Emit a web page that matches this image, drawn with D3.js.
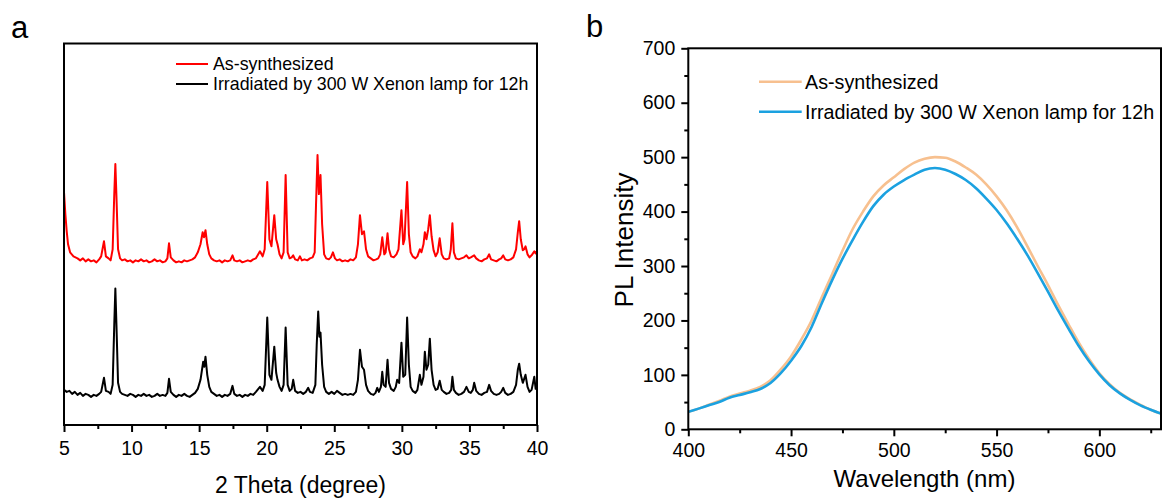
<!DOCTYPE html>
<html>
<head>
<meta charset="utf-8">
<script src="https://cdn.jsdelivr.net/npm/d3@7"></script>
<style>
  body { margin: 0; background: #fff; }
  svg { display: block; font-family: "Liberation Sans", Arial, sans-serif; }
</style>
</head>
<body>
<div id="chart"></div>
<script>
// ---- panel a : XRD patterns, [2theta, intensity (a.u.)] ----
var xrdIrradiated = [
  [5.0,35],[5.2,33],[5.4,34],[5.6,31],[5.8,33],[6.0,30],[6.2,32],[6.4,29],[6.6,31],[6.8,30],[7.0,28],[7.2,30],[7.4,29],[7.6,31],[7.75,33],[7.96,47],[8.1,34],[8.3,33],[8.45,31],[8.6,40],[8.72,100],[8.8,136],[8.88,100],[9.0,42],[9.15,33],[9.3,31],[9.5,30],[9.7,29],[9.9,31],[10.1,30],[10.3,28],[10.5,30],[10.7,29],[10.9,31],[11.1,29],[11.3,30],[11.5,28],[11.7,29],[11.9,31],[12.1,29],[12.3,30],[12.5,29],[12.65,32],[12.77,46],[12.9,33],[13.1,30],[13.3,28],[13.5,30],[13.7,29],[13.9,31],[14.1,29],[14.3,28],[14.5,30],[14.7,32],[14.9,36],[15.1,45],[15.3,63],[15.38,58],[15.47,68],[15.6,50],[15.75,38],[15.9,33],[16.1,31],[16.3,29],[16.5,30],[16.7,28],[16.9,30],[17.1,29],[17.3,31],[17.47,39],[17.6,31],[17.8,29],[18.0,30],[18.2,28],[18.4,30],[18.6,29],[18.8,31],[19.0,30],[19.2,33],[19.5,38],[19.7,34],[19.85,40],[20.04,107],[20.2,50],[20.35,45],[20.56,78],[20.7,52],[20.8,45],[20.95,38],[21.1,34],[21.25,40],[21.4,97],[21.55,40],[21.7,34],[21.85,36],[21.96,45],[22.1,34],[22.3,32],[22.5,33],[22.7,31],[22.9,33],[23.07,37],[23.2,33],[23.4,32],[23.6,40],[23.7,80],[23.81,113],[23.9,88],[23.98,92],[24.1,60],[24.25,38],[24.4,33],[24.6,31],[24.8,33],[25.0,31],[25.2,34],[25.4,32],[25.6,30],[25.8,31],[26.0,30],[26.2,31],[26.4,30],[26.6,33],[26.75,45],[26.9,75],[27.05,58],[27.2,55],[27.35,40],[27.5,34],[27.7,31],[27.9,30],[28.05,32],[28.18,37],[28.3,33],[28.45,38],[28.55,53],[28.65,40],[28.8,38],[28.94,65],[29.05,42],[29.2,36],[29.4,34],[29.55,38],[29.65,45],[29.8,42],[29.97,82],[30.1,48],[30.25,50],[30.39,107],[30.52,60],[30.65,38],[30.8,34],[31.0,32],[31.15,35],[31.33,50],[31.45,40],[31.6,48],[31.7,73],[31.82,55],[31.95,60],[32.07,86],[32.2,55],[32.35,40],[32.5,35],[32.65,36],[32.8,44],[32.95,35],[33.1,33],[33.3,31],[33.5,32],[33.65,35],[33.74,48],[33.85,35],[34.0,32],[34.2,30],[34.4,31],[34.6,33],[34.78,38],[34.95,33],[35.1,32],[35.25,35],[35.35,42],[35.5,34],[35.7,31],[35.9,30],[36.1,32],[36.3,33],[36.46,40],[36.6,34],[36.8,31],[37.0,30],[37.2,31],[37.35,33],[37.5,37],[37.65,32],[37.85,30],[38.05,31],[38.25,33],[38.45,40],[38.58,55],[38.68,61],[38.8,50],[38.95,42],[39.05,46],[39.15,50],[39.3,38],[39.45,33],[39.6,35],[39.8,48],[39.9,36],[40.0,40]
];
var xrdAsSynth = [
  [5.0,102],[5.1,80],[5.2,63],[5.3,50],[5.45,42],[5.7,38],[6.0,36],[6.2,34],[6.4,36],[6.6,33],[6.8,35],[7.0,33],[7.2,34],[7.4,32],[7.6,35],[7.75,38],[7.96,53],[8.1,38],[8.3,36],[8.45,34],[8.6,45],[8.72,100],[8.8,130],[8.88,98],[9.0,45],[9.15,36],[9.3,34],[9.5,35],[9.7,33],[9.9,34],[10.1,32],[10.3,34],[10.5,33],[10.7,35],[10.9,33],[11.1,34],[11.3,32],[11.5,33],[11.7,35],[11.9,33],[12.1,34],[12.3,32],[12.5,33],[12.65,36],[12.77,51],[12.9,37],[13.1,34],[13.3,32],[13.5,33],[13.7,32],[13.9,34],[14.1,33],[14.3,34],[14.5,35],[14.7,37],[14.9,42],[15.1,50],[15.26,62],[15.36,57],[15.47,64],[15.6,50],[15.75,40],[15.9,36],[16.1,34],[16.3,33],[16.5,34],[16.7,32],[16.9,34],[17.1,33],[17.3,34],[17.47,39],[17.6,34],[17.8,33],[18.0,34],[18.2,32],[18.4,33],[18.6,34],[18.8,33],[19.0,35],[19.2,36],[19.5,43],[19.7,38],[19.85,45],[20.04,112],[20.2,55],[20.35,48],[20.56,79],[20.7,55],[20.8,50],[20.95,40],[21.1,36],[21.25,42],[21.4,119],[21.55,42],[21.7,36],[21.85,37],[21.96,39],[22.1,35],[22.3,34],[22.46,38],[22.6,34],[22.8,35],[23.0,34],[23.2,36],[23.4,37],[23.55,42],[23.65,90],[23.76,139],[23.86,100],[23.98,119],[24.1,70],[24.25,40],[24.4,36],[24.6,35],[24.75,37],[24.9,42],[25.05,36],[25.2,34],[25.4,35],[25.6,33],[25.8,34],[26.0,33],[26.2,35],[26.4,34],[26.6,37],[26.75,50],[26.9,79],[27.05,60],[27.2,63],[27.35,45],[27.5,38],[27.7,36],[27.9,34],[28.1,35],[28.25,36],[28.4,40],[28.55,57],[28.7,40],[28.8,42],[28.94,61],[29.05,45],[29.2,38],[29.4,37],[29.6,40],[29.75,45],[29.97,84],[30.1,50],[30.2,55],[30.39,112],[30.52,60],[30.65,42],[30.8,38],[31.0,36],[31.15,38],[31.33,45],[31.45,42],[31.6,50],[31.7,62],[31.82,55],[31.95,65],[32.07,79],[32.2,58],[32.35,44],[32.5,38],[32.65,42],[32.8,56],[32.95,40],[33.1,36],[33.3,35],[33.5,36],[33.62,45],[33.74,71],[33.85,42],[34.0,36],[34.2,35],[34.4,36],[34.6,37],[34.78,39],[34.95,36],[35.1,37],[35.35,39],[35.5,36],[35.7,34],[35.9,33],[36.1,35],[36.3,36],[36.46,40],[36.6,35],[36.8,34],[37.0,33],[37.2,35],[37.35,36],[37.5,39],[37.65,35],[37.85,34],[38.05,35],[38.25,37],[38.45,45],[38.58,62],[38.68,73],[38.8,55],[38.95,44],[39.05,45],[39.15,48],[39.3,40],[39.45,37],[39.6,39],[39.8,43],[39.9,41],[40.0,43]
];
var xrdOffset = 130;   // vertical stacking of the as-synthesized pattern
var xrdTicks = [5, 10, 15, 20, 25, 30, 35, 40];
var xrdMinor = [7.5, 12.5, 17.5, 22.5, 27.5, 32.5, 37.5];

// ---- panel b : PL spectra ----
var wavelength = [400,405,410,415,420,425,430,435,440,445,450,455,460,465,470,475,480,485,490,495,500,505,510,515,520,525,530,535,540,545,550,555,560,565,570,575,580,585,590,595,600,605,610,615,620,625,630];
var plAsSynth =  [32,38,45,52,60,66,71,78,90,110,134,165,200,243,285,328,368,400,428,448,463,478,490,497,500,499,492,481,468,450,428,402,371,336,300,265,228,193,159,129,103,83,67,55,45,36,29];
var plIrradiated=[32,38,44,50,58,63,68,74,85,103,126,153,188,232,274,313,348,381,410,431,446,458,468,477,480,477,469,458,443,424,403,378,350,320,287,253,218,185,153,125,101,81,66,54,44,36,29];
var plTicksX = [400, 450, 500, 550, 600];
var plMinorX = [425, 475, 525, 575, 625];
var plTicksY = [0, 100, 200, 300, 400, 500, 600, 700];
var plMinorY = [50, 150, 250, 350, 450, 550, 650];

var legendA = ["As-synthesized", "Irradiated by 300 W Xenon lamp for 12h"];

var svg = d3.select("#chart").append("svg")
  .attr("width", 1164)
  .attr("height", 501);

// ===================== panel a =====================
var xa = d3.scaleLinear().domain([5, 40]).range([64, 537]);
var ya = d3.scaleLinear().domain([0, 380]).range([425, 43.5]);

svg.append("text").attr("x", 11).attr("y", 38)
  .style("font-size", "31px").text("a");

var lineA = d3.line().x(function(d){ return xa(d[0]); }).y(function(d){ return ya(d[1]); });
var lineAoff = d3.line().x(function(d){ return xa(d[0]); }).y(function(d){ return ya(d[1] + xrdOffset); });

svg.append("path").datum(xrdIrradiated)
  .attr("d", lineA).attr("fill", "none")
  .attr("stroke", "#000").attr("stroke-width", 2).attr("stroke-linejoin", "round");
svg.append("path").datum(xrdAsSynth)
  .attr("d", lineAoff).attr("fill", "none")
  .attr("stroke", "#ff0000").attr("stroke-width", 2).attr("stroke-linejoin", "round");

svg.append("g")
  .attr("transform", "translate(0,425)")
  .call(d3.axisBottom(xa).tickValues(xrdMinor).tickSize(4).tickFormat(""))
  .call(function(g){ g.select(".domain").remove(); g.selectAll("line").attr("stroke-width", 2); });
var axA = svg.append("g")
  .attr("transform", "translate(0,425)")
  .call(d3.axisBottom(xa).tickValues(xrdTicks).tickSize(7).tickPadding(9))
  .call(function(g){ g.select(".domain").remove(); g.selectAll("line").attr("stroke-width", 2); });
axA.selectAll("text").style("font-size", "19.5px").attr("fill", "#000").style("font-family", "Liberation Sans, Arial, sans-serif");

svg.append("rect")
  .attr("x", 64).attr("y", 43.5).attr("width", 473).attr("height", 381.5)
  .attr("fill", "none").attr("stroke", "#000").attr("stroke-width", 2);

svg.append("text").attr("x", 300.5).attr("y", 493)
  .attr("text-anchor", "middle").style("font-size", "23px").text("2 Theta (degree)");

var legAcol = ["#ff0000", "#000"];
legendA.forEach(function(t, i) {
  var yy = 64 + i * 20;
  svg.append("line").attr("x1", 176).attr("x2", 208).attr("y1", yy).attr("y2", yy)
    .attr("stroke", legAcol[i]).attr("stroke-width", 2);
  svg.append("text").attr("x", 213).attr("y", yy).attr("dy", "0.36em")
    .style("font-size", "17.8px").text(t);
});

// ===================== panel b =====================
var xb = d3.scaleLinear().domain([400, 630]).range([688.3, 1161]);
var yb = d3.scaleLinear().domain([0, 700]).range([429.3, 48.3]);

svg.append("text").attr("x", 586).attr("y", 37)
  .style("font-size", "31px").text("b");

var plColors = ["#f7c08f", "#1ba1e0"];
var plSeries = [plAsSynth, plIrradiated];
var lineB = d3.line()
  .x(function(d, i){ return xb(wavelength[i]); })
  .y(function(d){ return yb(d); })
  .curve(d3.curveMonotoneX);

plSeries.forEach(function(s, k) {
  svg.append("path").datum(s)
    .attr("d", lineB).attr("fill", "none")
    .attr("stroke", plColors[k]).attr("stroke-width", 2.6);
});

function tidy(g) {
  g.select(".domain").remove();
  g.selectAll("line").attr("stroke-width", 2);
  g.selectAll("text").style("font-size", "19.5px").attr("fill", "#000")
    .style("font-family", "Liberation Sans, Arial, sans-serif");
}
svg.append("g").attr("transform", "translate(0,429.3)")
  .call(d3.axisBottom(xb).tickValues(plMinorX).tickSize(4).tickFormat("")).call(tidy);
svg.append("g").attr("transform", "translate(0,429.3)")
  .call(d3.axisBottom(xb).tickValues(plTicksX).tickSize(7).tickPadding(7)).call(tidy);
svg.append("g").attr("transform", "translate(688.3,0)")
  .call(d3.axisLeft(yb).tickValues(plMinorY).tickSize(4).tickFormat("")).call(tidy);
svg.append("g").attr("transform", "translate(688.3,0)")
  .call(d3.axisLeft(yb).tickValues(plTicksY).tickSize(7).tickPadding(6)).call(tidy);

svg.append("rect")
  .attr("x", 688.3).attr("y", 48.3).attr("width", 1161 - 688.3).attr("height", 381)
  .attr("fill", "none").attr("stroke", "#000").attr("stroke-width", 2);

svg.append("text").attr("x", 924.5).attr("y", 487)
  .attr("text-anchor", "middle").style("font-size", "24px").text("Wavelength (nm)");
svg.append("text")
  .attr("transform", "translate(633,240) rotate(-90)")
  .attr("text-anchor", "middle").style("font-size", "26px").text("PL Intensity");

var legendB = legendA;
legendB.forEach(function(t, i) {
  var yy = 81.7 + i * 30;
  svg.append("line").attr("x1", 759).attr("x2", 801.7).attr("y1", yy).attr("y2", yy)
    .attr("stroke", plColors[i]).attr("stroke-width", 2.6);
  svg.append("text").attr("x", 805).attr("y", yy).attr("dy", "0.36em")
    .style("font-size", "19.7px").text(t);
});
</script>
</body>
</html>
